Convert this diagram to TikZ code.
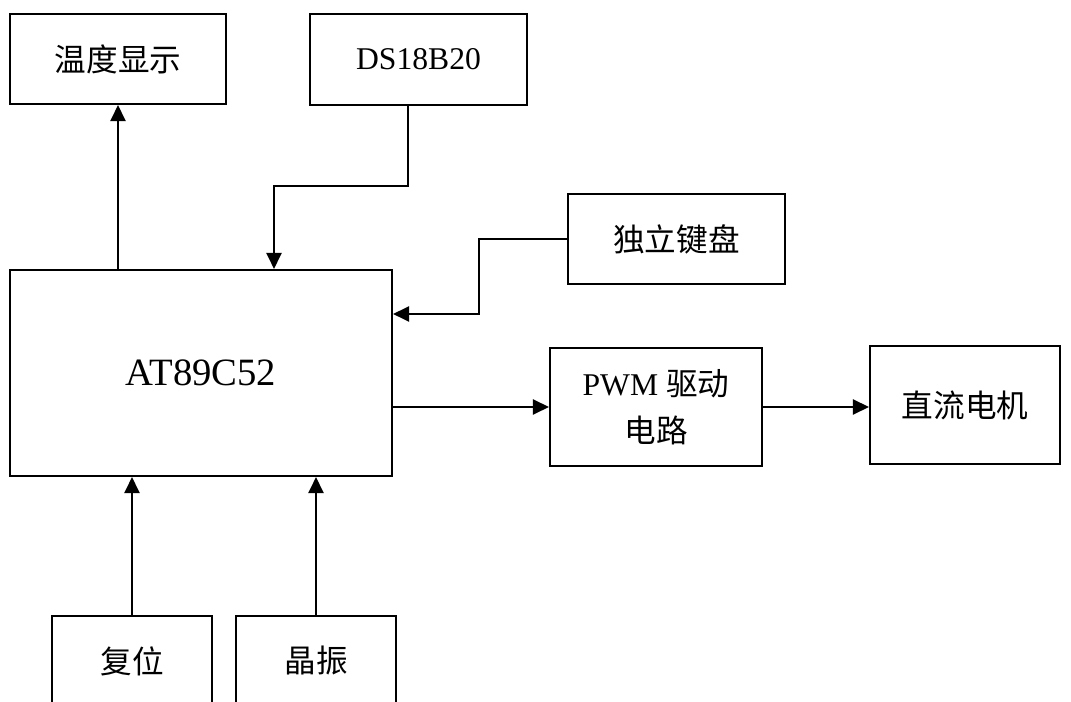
\documentclass[tikz,border=0pt]{standalone}
\usepackage{fontspec}
\setmainfont{Liberation Serif}
\newfontfamily\cjk{Noto Sans CJK SC}
\usepackage{tikz}
\usetikzlibrary{arrows.meta, positioning}

\begin{document}
\begin{tikzpicture}[
    blk/.style={draw, rectangle, line width=1.2pt, font=\fontsize{18}{27}\selectfont, align=center, inner sep=0pt},
    link/.style={-{Triangle[length=0.32cm, width=0.30cm]}, line width=1.4pt}]
        % Temperature control block diagram
        \useasboundingbox (0,0) rectangle (21.42,-14.04);
        \node[blk, minimum width=7.64cm, minimum height=4.12cm, font=\fontsize{22}{26}\selectfont] (mcu) at (4.02,-7.46) {AT89C52};
        \node[blk, minimum width=4.32cm, minimum height=1.80cm] (disp) at (2.36,-1.18) {\cjk 温度显示};
        \node[blk, minimum width=4.34cm, minimum height=1.82cm] (sensor) at (8.37,-1.19) {DS18B20};
        \node[blk, minimum width=4.34cm, minimum height=1.80cm] (keys) at (13.53,-4.78) {\cjk 独立键盘};
        \node[blk, minimum width=4.24cm, minimum height=2.36cm] (pwm) at (13.12,-8.14) {PWM {\cjk 驱动}\\{\cjk 电路}};
        \node[blk, minimum width=3.80cm, minimum height=2.36cm] (motor) at (19.30,-8.10) {\cjk 直流电机};
        \node[blk, minimum width=3.20cm, minimum height=1.80cm] (reset) at (2.64,-13.22) {\cjk 复位};
        \node[blk, minimum width=3.20cm, minimum height=1.80cm] (osc) at (6.32,-13.22) {\cjk 晶振};

        \draw[link] (mcu.north -| disp.south) -- (disp.south);
        \draw[link] ([xshift=-0.21cm]sensor.south) -- ++(0,-1.6) -| ([xshift=1.46cm]mcu.north);
        \draw[link] (keys.west) -- ++(-1.76,0) |- ([yshift=1.18cm]mcu.east);
        \draw[link] (mcu.east |- pwm.west) -- (pwm.west);
        \draw[link] (pwm.east) -- (motor.west |- pwm.east);
        \draw[link] (reset.north) -- (mcu.south -| reset.north);
        \draw[link] (osc.north) -- (mcu.south -| osc.north);
    \end{tikzpicture}
\end{document}
